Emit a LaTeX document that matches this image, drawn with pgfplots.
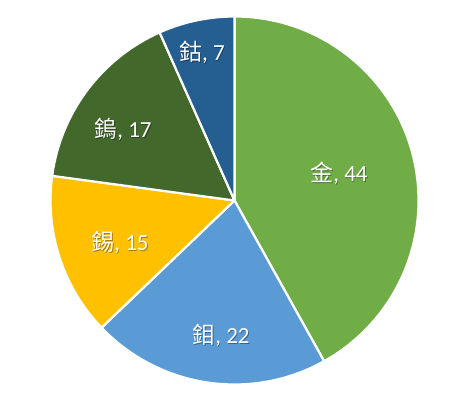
\documentclass[border=0pt]{standalone}
\usepackage{fontspec}
\setmainfont{Carlito}
\newfontfamily\cjk{Noto Sans CJK TC}
\usepackage{pgfplots}
\usepackage{pgfplotstable}
\pgfplotsset{compat=1.18}
\definecolor{slice0}{HTML}{70AD47}
\definecolor{slice1}{HTML}{5B9BD5}
\definecolor{slice2}{HTML}{FFC000}
\definecolor{slice3}{HTML}{43682B}
\definecolor{slice4}{HTML}{255E91}
\pgfplotstableread[col sep=comma]{
name,value,lx,ly
金,44,339,226
鉬,22,221,64
錫,15,120,157
鎢,17,123,270
鈷,7,202,347
}\piedata
\begin{document}
\begin{tikzpicture}
\begin{axis}[x=1pt,y=1pt,xmin=0,xmax=472,ymin=0,ymax=399,hide axis,clip=false]
\pgfplotstablegetrowsof{\piedata}
\pgfmathtruncatemacro{\N}{\pgfplotsretval-1}
\def\total{0}
\pgfplotsforeachungrouped \i in {0,...,\N}{%
  \pgfplotstablegetelem{\i}{value}\of\piedata
  \pgfmathsetmacro{\total}{\total+\pgfplotsretval}}
\def\startang{90}
\pgfplotsforeachungrouped \i in {0,...,\N}{%
  \pgfplotstablegetelem{\i}{value}\of\piedata
  \let\val\pgfplotsretval
  \pgfmathsetmacro{\endang}{\startang-\val/\total*360}
  \edef\doslice{\noexpand\fill[fill=slice\i, draw=white, line width=2.2pt, line join=round]
    (axis cs:234.5,198.5) -- ++(\startang:184pt) arc[start angle=\startang, end angle=\endang, radius=184pt] -- cycle;}
  \doslice
  \let\startang\endang
}
\pgfplotsforeachungrouped \i in {0,...,\N}{%
  \pgfplotstablegetelem{\i}{value}\of\piedata
  \let\val\pgfplotsretval
  \pgfplotstablegetelem{\i}{name}\of\piedata
  \let\nm\pgfplotsretval
  \pgfplotstablegetelem{\i}{lx}\of\piedata
  \let\lx\pgfplotsretval
  \pgfplotstablegetelem{\i}{ly}\of\piedata
  \let\ly\pgfplotsretval
  \edef\dolabel{%
    \noexpand\node[text=black, opacity=0.35, xshift=0.8pt, yshift=-0.8pt, font=\noexpand\fontsize{23}{26}\noexpand\selectfont, inner sep=0pt] at (axis cs:\lx,\ly) {{\noexpand\cjk \nm}, \val};
    \noexpand\node[text=white, font=\noexpand\fontsize{23}{26}\noexpand\selectfont, inner sep=0pt] at (axis cs:\lx,\ly) {{\noexpand\cjk \nm}, \val};}
  \dolabel
}
\end{axis}
\pgfresetboundingbox
\path (current axis.south west) rectangle (current axis.north east);
\end{tikzpicture}
\end{document}
